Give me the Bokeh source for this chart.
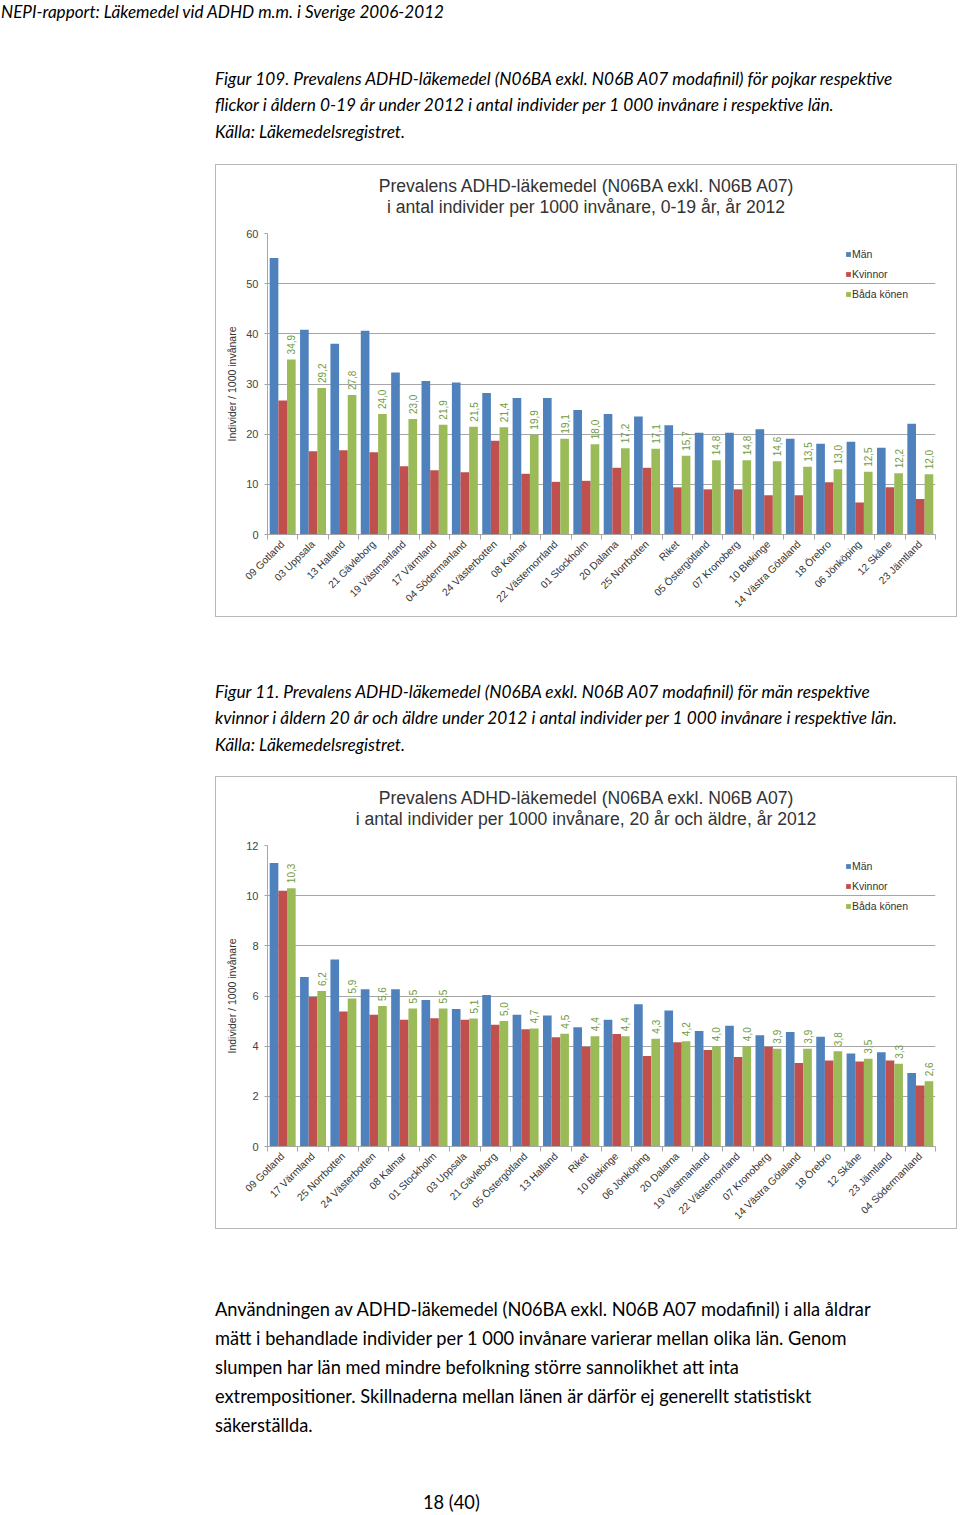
from math import pi
from bokeh.plotting import figure
from bokeh.models import (Range1d, FixedTicker, LinearAxis, ColumnDataSource, Div, Spacer)
from bokeh.layouts import column, row
from bokeh.transform import dodge
from bokeh.core.properties import value
from bokeh.embed import file_html
from bokeh.resources import INLINE

# ---------------- data ----------------
cats1 = ["09 Gotland", "03 Uppsala", "13 Halland", "21 Gävleborg", "19 Västmanland",
         "17 Värmland", "04 Södermanland", "24 Västerbotten", "08 Kalmar", "22 Västernorrland",
         "01 Stockholm", "20 Dalarna", "25 Norrbotten", "Riket", "05 Östergötland",
         "07 Kronoberg", "10 Blekinge", "14 Västra Götaland", "18 Örebro", "06 Jönköping",
         "12 Skåne", "23 Jämtland"]
man1 = [55.1, 40.8, 38.0, 40.6, 32.3, 30.6, 30.3, 28.2, 27.2, 27.2, 24.8,
        24.0, 23.5, 21.8, 20.3, 20.3, 21.0, 19.1, 18.1, 18.5, 17.3, 22.1]
kvinnor1 = [26.7, 16.6, 16.8, 16.4, 13.6, 12.8, 12.4, 18.7, 12.1, 10.5, 10.7,
            13.3, 13.3, 9.4, 9.0, 9.0, 7.8, 7.8, 10.4, 6.4, 9.4, 7.1]
bada1 = [34.9, 29.2, 27.8, 24.0, 23.0, 21.9, 21.5, 21.4, 19.9, 19.1, 18.0,
         17.2, 17.1, 15.7, 14.8, 14.8, 14.6, 13.5, 13.0, 12.5, 12.2, 12.0]

cats2 = ["09 Gotland", "17 Värmland", "25 Norrbotten", "24 Västerbotten", "08 Kalmar",
         "01 Stockholm", "03 Uppsala", "21 Gävleborg", "05 Östergötland", "13 Halland",
         "Riket", "10 Blekinge", "06 Jönköping", "20 Dalarna", "19 Västmanland",
         "22 Västernorrland", "07 Kronoberg", "14 Västra Götaland", "18 Örebro",
         "12 Skåne", "23 Jämtland", "04 Södermanland"]
man2 = [11.3, 6.76, 7.46, 6.27, 6.27, 5.84, 5.48, 6.04, 5.25, 5.22, 4.75,
        5.05, 5.67, 5.42, 4.60, 4.81, 4.44, 4.56, 4.38, 3.71, 3.76, 2.93]
kvinnor2 = [10.2, 5.96, 5.38, 5.25, 5.05, 5.11, 5.05, 4.85, 4.67, 4.36, 3.98,
            4.49, 3.61, 4.16, 3.85, 3.57, 3.98, 3.33, 3.43, 3.39, 3.43, 2.43]
bada2 = [10.3, 6.2, 5.9, 5.6, 5.5, 5.5, 5.1, 5.0, 4.7, 4.5, 4.4,
         4.4, 4.3, 4.2, 4.0, 4.0, 3.9, 3.9, 3.8, 3.5, 3.3, 2.6]

yticks1 = [0, 10, 20, 30, 40, 50, 60]
yticks2 = [0, 2, 4, 6, 8, 10, 12]

series_names = ["Män", "Kvinnor", "Båda könen"]
chart_title_1 = "Prevalens ADHD-läkemedel (N06BA exkl. N06B A07)"
chart_sub_1 = "i antal individer per 1000 invånare, 0-19 år, år 2012"
chart_sub_2 = "i antal individer per 1000 invånare, 20 år och äldre, år 2012"
y_label = "Individer / 1000 invånare"

header = "NEPI-rapport: Läkemedel vid ADHD m.m. i Sverige 2006-2012"
caption1 = ["Figur 109. Prevalens ADHD-läkemedel (N06BA exkl. N06B A07 modafinil) för pojkar respektive",
            "flickor i åldern 0-19 år under 2012 i antal individer per 1 000 invånare i respektive län.",
            "Källa: Läkemedelsregistret."]
caption2 = ["Figur 11. Prevalens ADHD-läkemedel (N06BA exkl. N06B A07 modafinil) för män respektive",
            "kvinnor i åldern 20 år och äldre under 2012 i antal individer per 1 000 invånare i respektive län.",
            "Källa: Läkemedelsregistret."]
paragraph = ["Användningen av ADHD-läkemedel (N06BA exkl. N06B A07 modafinil) i alla åldrar",
             "mätt i behandlade individer per 1 000 invånare varierar mellan olika län. Genom",
             "slumpen har län med mindre befolkning större sannolikhet att inta",
             "extrempositioner. Skillnaderna mellan länen är därför ej generellt statistiskt",
             "säkerställda."]
page_no = "18 (40)"

# ---------------- style ----------------
FONT = "Liberation Sans"
TXTFONT = "Lato"
BLUE, RED, GREEN = "#4F81BD", "#C0504D", "#9BBB59"
LBL_GREEN = "#6F9B3F"
GRID = "#a6a6a6"
BOX_W = 742


def make_chart(cats, man, kv, bada, yticks):
    H = 394
    n = len(cats)
    p = figure(width=BOX_W, height=H,
               x_range=Range1d(0, n), y_range=Range1d(0, yticks[-1]),
               x_axis_location=None, output_backend="svg", toolbar_location=None,
               min_border_left=52, min_border_right=22, min_border_top=10, min_border_bottom=83)
    p.outline_line_color = None
    p.background_fill_color = None
    p.border_fill_color = None

    centers = [i + 0.5 for i in range(n)]
    src = ColumnDataSource(dict(xc=centers, man=man, kv=kv, bada=bada,
                                lbl=[f"{v:.1f}".replace(".", ",") for v in bada]))
    bw = 0.285
    p.vbar(x=dodge("xc", -bw), top="man", width=bw, source=src,
           fill_color=BLUE, line_color=None, legend_label=series_names[0])
    p.vbar(x=dodge("xc", 0), top="kv", width=bw, source=src,
           fill_color=RED, line_color=None, legend_label=series_names[1])
    p.vbar(x=dodge("xc", bw), top="bada", width=bw, source=src,
           fill_color=GREEN, line_color=None, legend_label=series_names[2])
    p.text(x=dodge("xc", bw), y="bada", text="lbl", source=src,
           angle=pi / 2, text_align="left", text_baseline="middle", y_offset=-5,
           text_font=value(FONT), text_font_size="10px", text_color=LBL_GREEN)

    # y axis
    yt = FixedTicker(ticks=yticks)
    ax = p.yaxis[0]
    ax.ticker = yt
    ax.axis_line_color = GRID
    ax.major_tick_line_color = GRID
    ax.major_tick_out = 3
    ax.major_tick_in = 0
    ax.minor_tick_line_color = None
    ax.major_label_standoff = 6
    ax.major_label_text_font = FONT
    ax.major_label_text_font_size = "11px"
    ax.major_label_text_color = "#444444"
    ax.axis_label = y_label
    ax.axis_label_text_font = FONT
    ax.axis_label_text_font_size = "10.5px"
    ax.axis_label_text_font_style = "normal"
    ax.axis_label_text_color = "#333333"
    ax.axis_label_standoff = 5
    p.ygrid.ticker = yt
    p.ygrid.grid_line_color = GRID
    p.xgrid.grid_line_color = None

    # x axis: labels at the group centres, small ticks at the group boundaries
    xt = FixedTicker(ticks=centers, minor_ticks=list(range(n + 1)))
    cat_axis = LinearAxis(ticker=xt,
                          major_label_overrides={c: name for c, name in zip(centers, cats)},
                          major_label_orientation=pi / 4,
                          major_tick_line_color=None, major_tick_out=0, major_tick_in=0,
                          minor_tick_line_color=GRID, minor_tick_out=5, minor_tick_in=0,
                          axis_line_color=GRID,
                          major_label_standoff=3, major_label_text_font=FONT,
                          major_label_text_font_size="10.3px",
                          major_label_text_color="#333333")
    p.add_layout(cat_axis, "below")

    # legend
    lg = p.legend[0]
    lg.location = (578, 233)
    lg.orientation = "vertical"
    lg.glyph_width = 6
    lg.glyph_height = 6
    lg.label_height = 14
    lg.label_standoff = 1
    lg.spacing = 6
    lg.padding = 0
    lg.margin = 0
    lg.border_line_color = None
    lg.background_fill_alpha = 0
    lg.label_text_font = FONT
    lg.label_text_font_size = "10.5px"
    lg.label_text_color = "#333333"
    return p


def title_div(t1, t2):
    st = (f"position:absolute; left:0; top:11.5px; width:{BOX_W}px; text-align:center;"
          f" font-family:'{FONT}'; font-size:17.6px; line-height:21px; color:#333;"
          " white-space:nowrap;")
    html = (f'<div style="position:relative; width:{BOX_W}px; height:59px;">'
            f'<div style="{st}">{t1}<br>{t2}</div></div>')
    return Div(text=html, width=BOX_W, height=59, margin=0)


def chart_box(p, t1, t2):
    return column(title_div(t1, t2), p, width=BOX_W, height=453, margin=0,
                  styles={"outline": "1.5px solid #b8b8b8", "outline-offset": "-1.5px",
                          "background": "white"})


def block(lines, left, top, size, lh, italic=False):
    st = (f"position:absolute; left:{left}px; top:{top}px; font-family:'{TXTFONT}';"
          f" font-size:{size}px; line-height:{lh}px; white-space:nowrap; color:#000;"
          f" font-style:{'italic' if italic else 'normal'};")
    return f'<div style="{st}">' + "<br>".join(lines) + "</div>"


def page_div(inner, h):
    return Div(text=f'<div style="position:relative; width:957px; height:{h}px; overflow:hidden;">{inner}</div>',
               width=957, height=h, margin=0)


p1 = make_chart(cats1, man1, kvinnor1, bada1, yticks1)
p2 = make_chart(cats2, man2, kvinnor2, bada2, yticks2)

top_div = page_div(block([header], 1, 2, 17.1, 20, True) +
                   block(caption1, 215, 65.75, 17.3, 26.5, True), 164)
mid_div = page_div(block(caption2, 215, 61.75, 17.3, 26.5, True), 159)
bot_div = page_div(block(paragraph, 215, 65.5, 18.25, 29) +
                   block([page_no], 423, 263, 18.25, 20), 286)

layout = column(top_div,
                row(Spacer(width=215, height=453), chart_box(p1, chart_title_1, chart_sub_1)),
                mid_div,
                row(Spacer(width=215, height=453), chart_box(p2, chart_title_1, chart_sub_2)),
                bot_div)

open("out.html", "w").write(file_html(layout, INLINE))
